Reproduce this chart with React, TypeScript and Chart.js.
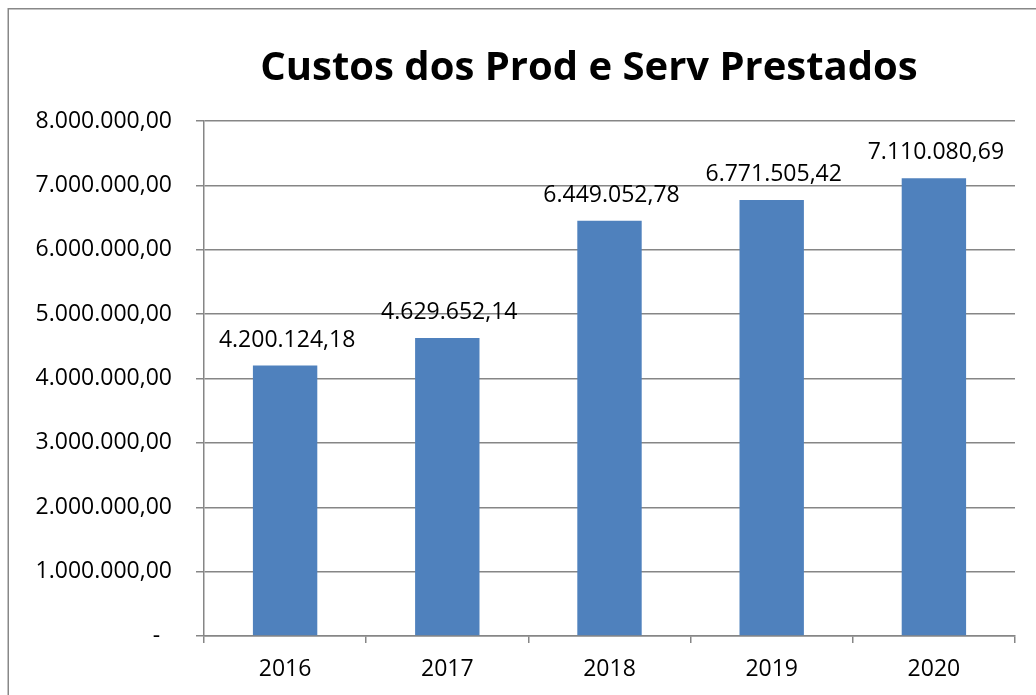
import React, { useEffect, useRef } from "react";
import { Chart, registerables } from "chart.js";

Chart.register(...registerables);

const title = "Custos dos Prod e Serv Prestados";
const categories = ["2016", "2017", "2018", "2019", "2020"];
const values = [4200124.18, 4629652.14, 6449052.78, 6771505.42, 7110080.69];
const yMin = 0;
const yMax = 8000000;
const yStep = 1000000;
const zeroLabel = "-  ";

const FONT = "'Open Sans', 'Liberation Sans', sans-serif";
const GRID = "#868686";
const BAR = "#4F81BD";

function fmtBR(v: number): string {
  const neg = v < 0;
  const abs = Math.abs(v);
  const fixed = abs.toFixed(2);
  const [intPart, dec] = fixed.split(".");
  const grouped = intPart.replace(/\B(?=(\d{3})+(?!\d))/g, ".");
  return (neg ? "-" : "") + grouped + "," + dec;
}

const framePlugin = {
  id: "frame",
  beforeDraw(chart: any) {
    const ctx = chart.ctx;
    ctx.save();
    ctx.fillStyle = "#ffffff";
    ctx.fillRect(0, 0, chart.width, chart.height);
    ctx.strokeStyle = "#888888";
    ctx.lineWidth = 1.5;
    ctx.beginPath();
    ctx.moveTo(8.25, chart.height + 2);
    ctx.lineTo(8.25, 8.75);
    ctx.lineTo(chart.width + 2, 8.75);
    ctx.stroke();
    ctx.restore();
  },
};

const titlePlugin = {
  id: "customTitle",
  afterDraw(chart: any) {
    const ctx = chart.ctx;
    ctx.save();
    ctx.font = `bold 40px ${FONT}`;
    ctx.fillStyle = "#000000";
    ctx.textAlign = "center";
    ctx.textBaseline = "alphabetic";
    ctx.fillText(title, 589, 80);
    ctx.restore();
  },
};

const valueLabelPlugin = {
  id: "valueLabels",
  afterDatasetsDraw(chart: any) {
    const ctx = chart.ctx;
    const meta = chart.getDatasetMeta(0);
    ctx.save();
    ctx.font = `23px ${FONT}`;
    ctx.fillStyle = "#000000";
    ctx.textAlign = "center";
    ctx.textBaseline = "alphabetic";
    meta.data.forEach((el: any, i: number) => {
      ctx.fillText(fmtBR(values[i]), el.x + 2, el.y - 19);
    });
    ctx.restore();
  },
};

export default function App() {
  const ref = useRef<HTMLCanvasElement | null>(null);

  useEffect(() => {
    if (!ref.current) return;
    const chart = new Chart(ref.current, {
      type: "bar",
      data: {
        labels: categories,
        datasets: [
          {
            data: values,
            backgroundColor: BAR,
            borderWidth: 0,
            categoryPercentage: 1,
            barPercentage: 0.397,
          },
        ],
      },
      options: {
        animation: false,
        responsive: false,
        devicePixelRatio: 1,
        layout: { padding: { top: 121, right: 21, bottom: 0, left: 0 } },
        plugins: {
          legend: { display: false },
          title: { display: false },
          tooltip: { enabled: false },
        },
        scales: {
          x: {
            offset: true,
            grid: {
              offset: true,
              drawOnChartArea: false,
              drawTicks: true,
              tickLength: 7,
              color: GRID,
              lineWidth: 1.5,
            },
            border: { display: true, color: GRID, width: 1.5 },
            ticks: {
              color: "#000000",
              font: { family: FONT, size: 23 },
              padding: 13,
              maxRotation: 0,
              autoSkip: false,
            },
            afterFit(scale: any) {
              scale.height = 59;
            },
          },
          y: {
            min: yMin,
            max: yMax,
            grid: {
              drawTicks: true,
              tickLength: 8,
              color: GRID,
              lineWidth: 1.5,
            },
            border: { display: true, color: GRID, width: 1.5 },
            ticks: {
              stepSize: yStep,
              color: "#000000",
              font: { family: FONT, size: 23 },
              padding: 24,
              callback: (v: any) => (Number(v) === 0 ? zeroLabel : fmtBR(Number(v))),
            },
            afterFit(scale: any) {
              scale.width = 204;
            },
          },
        },
      },
      plugins: [framePlugin, titlePlugin, valueLabelPlugin],
    });
    return () => chart.destroy();
  }, []);

  return (
    <div style={{ position: "fixed", left: 0, top: 0, width: 1036, height: 695, overflow: "hidden", background: "#fff" }}>
      <canvas ref={ref} width={1036} height={695} style={{ display: "block", width: 1036, height: 695 }} />
    </div>
  );
}
